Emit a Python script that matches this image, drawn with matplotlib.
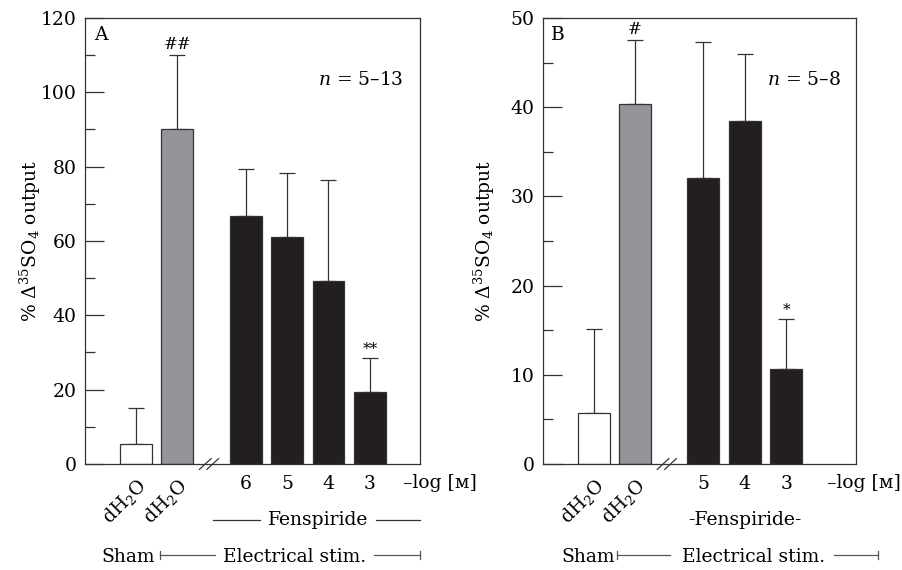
import numpy as np
import matplotlib
matplotlib.use('Agg')
import matplotlib.pyplot as plt

plt.rcParams['font.family'] = ['DejaVu Serif', 'DejaVu Sans']
plt.rcParams['mathtext.fontset'] = 'dejavuserif'
plt.rcParams['font.size'] = 13.5

## Panel A data
a_means = [5.5, 90.0, 66.7, 61.0, 49.2, 19.3]
a_errs = [9.6, 20.0, 12.7, 17.3, 27.1, 9.1]
a_conc = ['6', '5', '4', '3']
a_marks = ['', '##', '', '', '', '**']

## Panel B data
b_means = [5.75, 40.4, 32.1, 38.4, 10.6]
b_errs = [9.4, 7.1, 15.2, 7.6, 5.6]
b_conc = ['5', '4', '3']
b_marks = ['', '#', '', '', '*']

water_label = 'dH$_2$O'
bar_colors = ['white', '#939598', '#231f20']
gap = 0.65
width = 0.77
edge = '#333333'


def positions(n):
    return np.array([i if i < 2 else i + gap for i in range(n)], dtype=float)


def draw_panel(ax, means, errs, conc, marks, ymax, minor, letter, ntext,
               xright, logx, fens_text, fens_lines, fens_x, sham_x):
    x = positions(len(means))
    cols = [bar_colors[0], bar_colors[1]] + [bar_colors[2]] * (len(means) - 2)
    ax.bar(x, means, width=width, color=cols, edgecolor=edge, linewidth=0.9, zorder=2)
    ax.errorbar(x, means, yerr=[np.zeros(len(errs)), errs], fmt='none',
                ecolor='#333333', elinewidth=0.9, capsize=5.5, capthick=0.9, zorder=1)
    for xi, m, e, s in zip(x, means, errs, marks):
        if s:
            fs = 11 if '*' in s else 12
            ax.annotate(s, (xi, m + e), xytext=(0, 1.5), textcoords='offset points',
                        ha='center', va='bottom', fontsize=fs)

    ax.set_xlim(-1.23, xright)
    ax.set_ylim(0, ymax)
    ax.set_yticks(np.arange(0, ymax + 1, minor * 2))
    ax.set_yticks(np.arange(minor, ymax, minor * 2), minor=True)
    ax.tick_params(axis='y', direction='in', length=14, width=0.9, color='#333333', pad=6)
    ax.tick_params(axis='y', which='minor', direction='in', length=7, width=0.9, color='#333333')
    ax.set_xticks(x)
    ax.set_xticklabels([water_label, water_label] + conc)
    ax.tick_params(axis='x', length=0, pad=8)
    for lab in ax.get_xticklabels()[:2]:
        lab.set_rotation(45)
        lab.set_ha('right')
        lab.set_va('top')
        lab.set_rotation_mode('anchor')
    for sp in ax.spines.values():
        sp.set_color('#333333')
        sp.set_linewidth(0.9)

    ax.set_ylabel(r'% $\Delta^{35}$SO$_4$ output')
    ax.text(0.026, 0.962, letter, transform=ax.transAxes, ha='left', va='center')
    ax.text(0.952, 0.861, ntext, transform=ax.transAxes, ha='right', va='center')

    tr = ax.get_xaxis_transform()
    ax.text(logx, -0.043, '–log [ᴍ]', transform=tr, ha='left', va='center')

    ## break mark between sham and stimulated groups
    bx = 1 + width / 2 + 0.38
    for dx in (-0.09, 0.09):
        ax.plot([bx + dx - 0.14, bx + dx + 0.14], [-0.012, 0.012], transform=tr,
                color='#333333', lw=0.9, clip_on=False, zorder=5)

    ax.text(fens_x, -0.126, fens_text, transform=tr, ha='center', va='center')
    for x0, x1 in fens_lines:
        ax.plot([x0, x1], [-0.126, -0.126], transform=tr, color='#333333', lw=0.9, clip_on=False)

    s_right, b0, b1, t_x, l0, l1 = sham_x
    ax.text(s_right, -0.208, 'Sham', transform=tr, ha='right', va='center')
    ax.text(t_x, -0.208, 'Electrical stim.', transform=tr, ha='center', va='center')
    ax.plot([b0, b1], [-0.203, -0.203], transform=tr, color='#555555', lw=0.9, clip_on=False)
    ax.plot([l0, l1], [-0.203, -0.203], transform=tr, color='#555555', lw=0.9, clip_on=False)
    ax.plot([b0, b0], [-0.194, -0.212], transform=tr, color='#555555', lw=0.9, clip_on=False)
    ax.plot([l1, l1], [-0.194, -0.212], transform=tr, color='#555555', lw=0.9, clip_on=False)


fig = plt.figure(figsize=(9.03, 5.70), dpi=100)
axA = fig.add_axes([0.0941, 0.186, 0.371, 0.7825])
axB = fig.add_axes([0.6013, 0.186, 0.3466, 0.7825])

draw_panel(axA, a_means, a_errs, a_conc, a_marks, 120, 10, 'A', r'$n$ = 5–13',
           6.86, 6.45, 'Fenspiride', [(1.86, 3.0), (5.8, 6.86)], 4.4,
           (0.46, 0.58, 1.91, 3.82, 5.75, 6.86))
draw_panel(axB, b_means, b_errs, b_conc, b_marks, 50, 5, 'B', r'$n$ = 5–8',
           6.34, 5.64, '-Fenspiride-', [], 3.66,
           (0.51, 0.56, 1.84, 3.87, 5.8, 6.88))

axA.yaxis.set_label_coords(-0.125, 0.5)
axB.yaxis.set_label_coords(-0.147, 0.5)

fig.savefig('out.png', dpi=100)
